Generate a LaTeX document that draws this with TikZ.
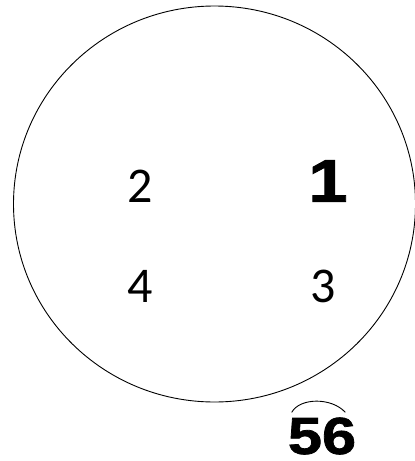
\documentclass[tikz,border=0pt]{standalone}
\usepackage{fontspec}
\setmainfont{Carlito}
\newfontfamily\heavyfont[FakeStretch=1.18, FakeBold=1.5]{Liberation Sans Bold}
\usepackage{tikz}

\tikzset{
  digit/.style={font=\fontsize{50}{54}\selectfont, inner sep=0pt},
  heavydigit/.style={font=\heavyfont\fontsize{60}{64}\selectfont, inner sep=0pt},
}

\begin{document}
\begin{tikzpicture}[x=1pt, y=-1pt]
  \useasboundingbox (0,0) rectangle (415,461);
  % the big circle
  \draw[line width=0.9pt] (214.5,204) ellipse [x radius=201, y radius=198];
  % the four numbers inside
  \node[heavydigit] (one) at (328,181) {1};
  \node[digit] (two) at (140,186) {2};
  \node[digit] (three) at (323,286) {3};
  \node[digit] (four) at (140,286) {4};
  % the number below, with its arc
  \node[heavydigit, font=\heavyfont\fontsize{52}{56}\selectfont] (fiftysix) at (322,436) {56};
  \draw[line width=0.9pt] ([xshift=4pt, yshift=5pt]fiftysix.north west)
    .. controls ([xshift=-22pt, yshift=20pt]fiftysix.north) and ([xshift=10pt, yshift=20pt]fiftysix.north)
    .. ([xshift=-11pt, yshift=5pt]fiftysix.north east);
\end{tikzpicture}
\end{document}
